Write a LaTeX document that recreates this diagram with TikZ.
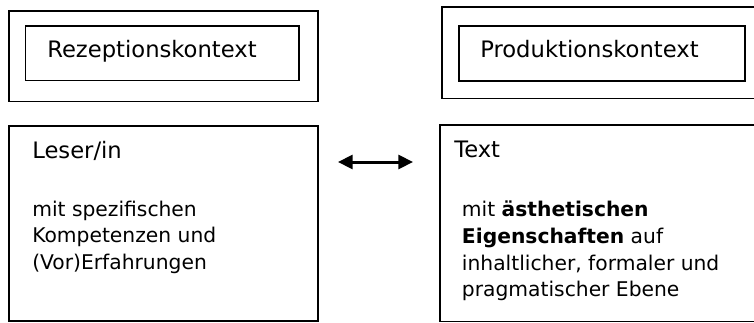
\documentclass[tikz,border=0pt]{standalone}
\usepackage{fontspec}
\setmainfont{DejaVu Sans}
\usetikzlibrary{arrows.meta,calc,positioning}

\begin{document}
\begin{tikzpicture}[x=0.75pt,y=-0.75pt,
    box/.style={draw,line width=1.3pt,inner sep=0pt,outer sep=0pt},
    kopf/.style={anchor=base west,inner sep=0pt,font=\fontsize{17}{20}\selectfont},
    inhalt/.style={anchor=base west,inner sep=0pt,align=left,font=\fontsize{15.2}{20}\selectfont},
    doppelpfeil/.style={{Triangle[length=11pt,width=10.5pt]}-{Triangle[length=11pt,width=10.5pt]},line width=2.25pt}]
    \def\pxl{0.75pt}  % one pixel of the reference
    \useasboundingbox (0,0) rectangle (754,322);
    % Context boxes (top row)
    \node[box,minimum width=309*\pxl,minimum height=90.5*\pxl] (rezRahmen) at (163.5,56.25) {};
    \node[box,minimum width=273.5*\pxl,minimum height=54.5*\pxl] (rezKasten) at (162.25,53.25) {};
    \node[box,minimum width=318*\pxl,minimum height=91.2*\pxl] (prodRahmen) at (600.85,52.9) {};
    \node[box,minimum width=286*\pxl,minimum height=55*\pxl] (prodKasten) at (602,53.5) {};
    \node[kopf] (rezLabel) at (47,57.3) {Rezeptionskontext};
    \node[kopf] (prodLabel) at (480,57) {Produktionskontext};
    % Reader and text boxes (bottom row)
    \node[box,minimum width=309*\pxl,minimum height=195*\pxl] (leser) at (163.5,223.5) {};
    \node[box,minimum width=320*\pxl,minimum height=196.5*\pxl] (text) at (600,223.25) {};
    \node[kopf] (leserLabel) at (32,158) {Leser/in};
    \node[kopf] (textLabel) at (454,157) {Text};
    % multi-line nodes sit on the baseline of their last line
    \node[inhalt] (leserInfo) at (32,269.5) {mit spezifischen\\Kompetenzen und\\(Vor)Erfahrungen};
    \node[inhalt] (textInfo) at (461.7,296.8) {mit \textbf{ästhetischen}\\\textbf{Eigenschaften} auf\\inhaltlicher, formaler und\\pragmatischer Ebene};
    % Double arrow between reader and text
    \draw[doppelpfeil] ($(leser.north east)+(20,36)$) -- ($(text.north west)+(-27,37)$);
\end{tikzpicture}
\end{document}
